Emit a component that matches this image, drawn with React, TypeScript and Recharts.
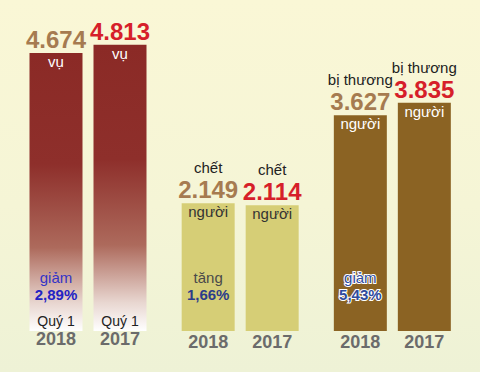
import React from "react";
import { BarChart, Bar, XAxis, YAxis, Cell, LabelList } from "recharts";

// ---- data ----
const metrics = ["vụ", "chết", "bị thương"];
const prefixes = ["", "chết", "bị thương"];
const units = ["vụ", "người", "người"];
const values2018 = [4674, 2149, 3627];
const values2017 = [4813, 2114, 3835];
const changeWords = ["giảm", "tăng", "giảm"];
const changePercents = ["2,89%", "1,66%", "5,43%"];
const periodLabels = ["Quý 1", "", ""];
const years = ["2018", "2017"];

const data = metrics.map((m, i) => ({
  metric: m,
  y2018: values2018[i],
  y2017: values2017[i],
}));

// ---- styles ----
const FONT = "'Liberation Sans', Arial, sans-serif";
const groupFills = ["url(#redFade)", "#D6CE76", "#8B6323"];
const unitColors = ["#FFFFFF", "#333333", "#FFFFFF"];
const changeWordColors = ["#3434C6", "#4A4A4A", "#2F4C9E"];
const changePctColors = ["#2323C4", "#2B3C8A", "#2F4C9E"];
const changeStroke = [false, false, true];
const valueColors = ["#A67B50", "#D61F2A"];

const fmt = (v: number) => String(v).replace(/\B(?=(\d{3})+(?!\d))/g, ".");

function geom(props: any, series: number[]) {
  const vb = props.viewBox || {};
  const x = Number(props.x ?? vb.x);
  const y = Number(props.y ?? vb.y);
  const width = Number(props.width ?? vb.width);
  const height = Number(props.height ?? vb.height);
  let index = props.index;
  if (index === undefined || index === null) index = series.indexOf(Number(props.value));
  return { x, y, width, height, index, value: Number(props.value) };
}

const makeLabel = (seriesIdx: number) => (props: any) => {
  const series = seriesIdx === 0 ? values2018 : values2017;
  const { x, y, width, height, index, value } = geom(props, series);
  if (index < 0 || isNaN(x)) return null;
  const cx = x + width / 2;
  const bottom = y + height;
  const valBase = y - 5;
  const yearBase = bottom + (index === 0 ? 14 : 17);
  return (
    <g>
      {prefixes[index] ? (
        <text x={cx} y={valBase - 25} textAnchor="middle" fontFamily={FONT} fontSize={15} fill="#222222">
          {prefixes[index]}
        </text>
      ) : null}
      <text x={cx} y={valBase} textAnchor="middle" fontFamily={FONT} fontSize={24} fontWeight="bold" fill={valueColors[seriesIdx]}>
        {fmt(value)}
      </text>
      <text x={cx} y={y + 14} textAnchor="middle" fontFamily={FONT} fontSize={15} fill={unitColors[index]}>
        {units[index]}
      </text>
      {seriesIdx === 0 ? (
        <g>
          <text
            x={cx}
            y={bottom - 48}
            textAnchor="middle"
            fontFamily={FONT}
            fontSize={15}
            fill={changeWordColors[index]}
            stroke={changeStroke[index] ? "#FFFFFF" : "none"}
            strokeWidth={changeStroke[index] ? 2 : 0}
            paintOrder="stroke"
          >
            {changeWords[index]}
          </text>
          <text
            x={cx}
            y={bottom - 31}
            textAnchor="middle"
            fontFamily={FONT}
            fontSize={15}
            fontWeight="bold"
            fill={changePctColors[index]}
            stroke={changeStroke[index] ? "#FFFFFF" : "none"}
            strokeWidth={changeStroke[index] ? 2 : 0}
            paintOrder="stroke"
          >
            {changePercents[index]}
          </text>
        </g>
      ) : null}
      {periodLabels[index] ? (
        <text x={cx} y={bottom - 5} textAnchor="middle" fontFamily={FONT} fontSize={14} fill="#222222">
          {periodLabels[index]}
        </text>
      ) : null}
      <text x={cx} y={yearBase} textAnchor="middle" fontFamily={FONT} fontSize={18} fontWeight="bold" fill="#6B6B6B">
        {years[seriesIdx]}
      </text>
    </g>
  );
};

export default function App() {
  return (
    <div
      style={{
        position: "absolute",
        left: 0,
        top: 0,
        width: 480,
        height: 372,
        background: "linear-gradient(180deg, #FAF7D6 0%, #F5F5D6 55%, #EEF2D6 100%)",
      }}
    >
      <BarChart
        width={480}
        height={372}
        data={data}
        margin={{ top: 33.5, right: 12, bottom: 41, left: 11.5 }}
        barSize={53}
        barGap={11}
      >
        <defs>
          <linearGradient id="redFade" x1="0" y1="0" x2="0" y2="1">
            <stop offset="0" stopColor="#8B2A26" />
            <stop offset="0.4" stopColor="#8E2F2B" />
            <stop offset="0.7" stopColor="#AD6A5C" />
            <stop offset="0.9" stopColor="#E8D6D0" />
            <stop offset="1" stopColor="#FFFFFF" />
          </linearGradient>
        </defs>
        <XAxis dataKey="metric" hide />
        <YAxis hide domain={[0, 5000]} />
        <Bar dataKey="y2018" isAnimationActive={false}>
          {data.map((d, i) => (
            <Cell key={"a" + i} fill={groupFills[i]} />
          ))}
          <LabelList dataKey="y2018" content={makeLabel(0)} />
        </Bar>
        <Bar dataKey="y2017" isAnimationActive={false}>
          {data.map((d, i) => (
            <Cell key={"b" + i} fill={groupFills[i]} />
          ))}
          <LabelList dataKey="y2017" content={makeLabel(1)} />
        </Bar>
      </BarChart>
    </div>
  );
}
